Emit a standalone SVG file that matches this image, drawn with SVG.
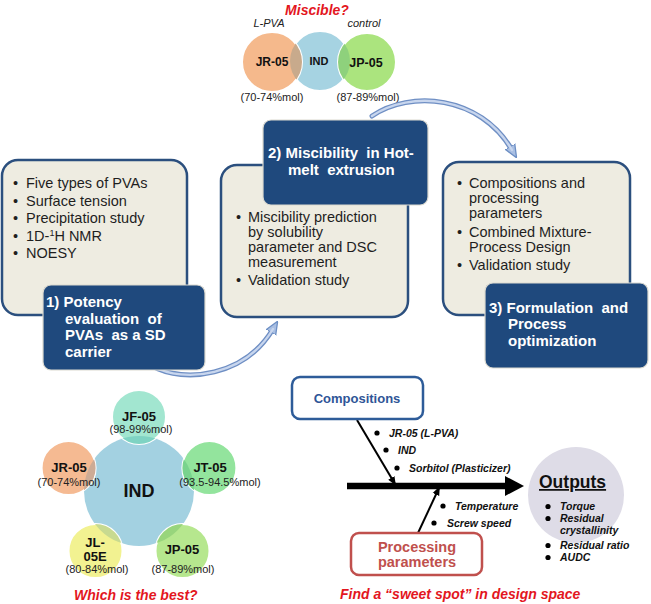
<svg xmlns="http://www.w3.org/2000/svg" width="651" height="604" viewBox="0 0 651 604">
<defs>
<style>
text{font-family:"Liberation Sans",Arial,sans-serif;white-space:pre}
.box{fill:#eeece1;stroke:#2b4f7e;stroke-width:2.5}
.lbl{fill:#1f497d;stroke:#dcdad0;stroke-width:1.2}
.bt{font-size:14.5px;fill:#1e1e1e}
.lt{font-size:15px;font-weight:bold;fill:#ffffff}
.vb{font-weight:bold;fill:#111;text-anchor:middle}
.pct{font-size:11px;fill:#222;text-anchor:middle}
.red{font-weight:bold;font-style:italic;fill:#e3161e}
.fb{font-size:10.5px;font-weight:bold;font-style:italic;fill:#111}
.sat{stroke:#ffffff;stroke-width:2}
.arcO{fill:none;stroke:#6f8fc4;stroke-width:5;stroke-linecap:round}
.arcI{fill:none;stroke:#c8d6ee;stroke-width:2.4;stroke-linecap:round}
.blk{stroke:#000;stroke-width:2;fill:none}
</style>
<marker id="ah" viewBox="0 0 10 10" refX="3" refY="5" markerUnits="userSpaceOnUse" markerWidth="13" markerHeight="13" orient="auto">
<path d="M0,0.8 L10,5 L0,9.2 Z" fill="#a9bfe3" stroke="#6d8fc4" stroke-width="1"/>
</marker>
<marker id="bk" viewBox="0 0 10 10" refX="8" refY="5" markerUnits="userSpaceOnUse" markerWidth="9" markerHeight="9" orient="auto">
<path d="M0,1 L10,5 L0,9 Z" fill="#000"/>
</marker>
<clipPath id="cTop"><circle cx="320" cy="61" r="30"/></clipPath>
<clipPath id="cBot"><circle cx="139" cy="491" r="55"/></clipPath>
</defs>

<rect width="651" height="604" fill="#ffffff"/>

<text x="317" y="15" class="red" font-size="14" text-anchor="middle">Miscible?</text>
<text x="269" y="27" font-size="11" font-style="italic" fill="#222" text-anchor="middle">L-PVA</text>
<text x="364" y="27" font-size="11" font-style="italic" fill="#222" text-anchor="middle">control</text>

<g id="venn-top">
<circle cx="320" cy="61" r="30" fill="#a6d3e2" class="sat"/>
<circle cx="272" cy="62" r="30" fill="#f5b98c" class="sat"/>
<circle cx="367" cy="62" r="29" fill="#abe47e" class="sat"/>
<g clip-path="url(#cTop)">
<circle cx="272" cy="62" r="30" fill="#c8aa8c"/>
<circle cx="367" cy="62" r="29" fill="#8ed17c"/>
</g>
<text x="272" y="66" class="vb" font-size="12">JR-05</text>
<text x="319" y="65" class="vb" font-size="11">IND</text>
<text x="366" y="67" class="vb" font-size="12.5">JP-05</text>
<text x="272" y="101" class="pct">(70-74%mol)</text>
<text x="368" y="101" class="pct">(87-89%mol)</text>
</g>

<g id="connectors">
<path class="arcO" d="M152 366 C185 384 245 376 273 329" marker-end="url(#ah)"/>
<path class="arcI" d="M152 366 C185 384 245 376 273 329"/>
<path class="arcO" d="M372 116 C410 90 480 95 512 150" marker-end="url(#ah)"/>
<path class="arcI" d="M372 116 C410 90 480 95 512 150"/>
<line x1="347" y1="486" x2="508" y2="486" stroke="#000" stroke-width="6.5"/>
<polygon points="505,476 524,486 505,496" fill="#000"/>
<line class="blk" x1="357" y1="420" x2="395" y2="484" marker-end="url(#bk)"/>
<line class="blk" x1="418" y1="533" x2="439" y2="488" marker-end="url(#bk)"/>
</g>

<g id="step1">
<rect class="box" x="2" y="160" width="185" height="155" rx="16"/>
<g class="bt">
<text x="13" y="188">•</text><text x="26" y="188">Five types of PVAs</text>
<text x="13" y="205.5">•</text><text x="26" y="205.5">Surface tension</text>
<text x="13" y="223">•</text><text x="26" y="223">Precipitation study</text>
<text x="13" y="240.5">•</text><text x="26" y="240.5">1D-<tspan font-size="9" dy="-5">1</tspan><tspan dy="5">H NMR</tspan></text>
<text x="13" y="258">•</text><text x="26" y="258">NOESY</text>
</g>
</g>
<g id="label1">
<rect class="lbl" x="43" y="285" width="162" height="85" rx="8"/>
<text class="lt" x="46" y="307">1) Potency</text>
<text class="lt" x="65" y="324">evaluation  of</text>
<text class="lt" x="65" y="340">PVAs  as a SD</text>
<text class="lt" x="65" y="357">carrier</text>
</g>

<g id="step2">
<rect class="box" x="221" y="165" width="187" height="152" rx="16"/>
<g class="bt">
<text x="236" y="222">•</text><text x="248" y="222">Miscibility prediction</text>
<text x="248" y="237">by solubility</text>
<text x="248" y="252">parameter and DSC</text>
<text x="248" y="267">measurement</text>
<text x="236" y="285">•</text><text x="248" y="285">Validation study</text>
</g>
</g>
<g id="label2">
<rect class="lbl" x="263" y="120" width="165" height="85" rx="8"/>
<text class="lt" x="268" y="158">2) Miscibility  in Hot-</text>
<text class="lt" x="288" y="175">melt  extrusion</text>
</g>

<g id="step3">
<rect class="box" x="443" y="162" width="187" height="153" rx="16"/>
<g class="bt">
<text x="457" y="188">•</text><text x="469" y="188">Compositions and</text>
<text x="469" y="203">processing</text>
<text x="469" y="218">parameters</text>
<text x="457" y="237">•</text><text x="469" y="237">Combined Mixture-</text>
<text x="469" y="252">Process Design</text>
<text x="457" y="270">•</text><text x="469" y="270">Validation study</text>
</g>
</g>
<g id="label3">
<rect class="lbl" x="485" y="283" width="163" height="85" rx="8"/>
<text class="lt" x="489" y="313">3) Formulation  and</text>
<text class="lt" x="508" y="329">Process</text>
<text class="lt" x="508" y="346">optimization</text>
</g>

<g id="pva-set">
<circle cx="139" cy="491" r="55" fill="#a3d1e1"/>
<circle cx="139" cy="417" r="27" fill="#a2e6d0" class="sat"/>
<circle cx="209.4" cy="468" r="27" fill="#93e49d" class="sat"/>
<circle cx="182.5" cy="551" r="27" fill="#b6e78e" class="sat"/>
<circle cx="95.5" cy="551" r="27" fill="#f2f291" class="sat"/>
<circle cx="68.6" cy="468" r="27" fill="#f5ba92" class="sat"/>
<g clip-path="url(#cBot)">
<circle cx="139" cy="417" r="27" fill="#7fd3c3"/>
<circle cx="209.4" cy="468" r="27" fill="#79d38d"/>
<circle cx="182.5" cy="551" r="27" fill="#98d57c"/>
<circle cx="95.5" cy="551" r="27" fill="#c8da90"/>
<circle cx="68.6" cy="468" r="27" fill="#cdab95"/>
</g>
<text x="139" y="497" class="vb" font-size="18">IND</text>
<text x="139" y="421" class="vb" font-size="13">JF-05</text>
<text x="141" y="433" class="pct">(98-99%mol)</text>
<text x="69" y="472" class="vb" font-size="13">JR-05</text>
<text x="69" y="486" class="pct">(70-74%mol)</text>
<text x="210" y="472" class="vb" font-size="13">JT-05</text>
<text x="220" y="486" class="pct">(93.5-94.5%mol)</text>
<text x="182" y="554" class="vb" font-size="13">JP-05</text>
<text x="183" y="573" class="pct">(87-89%mol)</text>
<text x="95" y="547" class="vb" font-size="13">JL-</text>
<text x="95" y="561" class="vb" font-size="13">05E</text>
<text x="97" y="573" class="pct">(80-84%mol)</text>
</g>
<text x="74" y="600" class="red" font-size="14">Which is the best?</text>

<g id="compositions">
<rect x="292" y="377" width="131" height="42" rx="8" fill="#ffffff" stroke="#2e5c99" stroke-width="2.5"/>
<text x="357" y="403" font-size="13" font-weight="bold" fill="#2f5597" text-anchor="middle">Compositions</text>
</g>
<g id="comp-items">
<circle cx="377" cy="433" r="2.6" fill="#000"/><text class="fb" x="389" y="437">JR-05 (L-PVA)</text>
<circle cx="386" cy="450" r="2.6" fill="#000"/><text class="fb" x="398" y="454">IND</text>
<circle cx="397" cy="468" r="2.6" fill="#000"/><text class="fb" x="409" y="472">Sorbitol (Plasticizer)</text>
</g>
<g id="proc-items">
<circle cx="443" cy="506" r="2.6" fill="#000"/><text class="fb" x="455" y="510">Temperature</text>
<circle cx="434" cy="523" r="2.6" fill="#000"/><text class="fb" x="447" y="527">Screw speed</text>
</g>
<g id="processing">
<rect x="351" y="533" width="131" height="42" rx="8" fill="#ffffff" stroke="#c0504d" stroke-width="2.5"/>
<text x="417" y="552" font-size="14.5" font-weight="bold" fill="#c0504d" text-anchor="middle">Processing</text>
<text x="417" y="567" font-size="14.5" font-weight="bold" fill="#c0504d" text-anchor="middle">parameters</text>
</g>
<g id="outputs">
<circle cx="576" cy="495" r="48" fill="#dedce7"/>
<text x="539" y="488" font-size="17.5" font-weight="bold" fill="#111" text-decoration="underline">Outputs</text>
<circle cx="548" cy="506.5" r="2.6" fill="#000"/><text class="fb" x="560" y="510">Torque</text>
<circle cx="548" cy="518.5" r="2.6" fill="#000"/><text class="fb" x="560" y="522">Residual</text>
<text class="fb" x="560" y="534">crystallinity</text>
<circle cx="548" cy="545.5" r="2.6" fill="#000"/><text class="fb" x="560" y="549">Residual ratio</text>
<circle cx="548" cy="557.5" r="2.6" fill="#000"/><text class="fb" x="560" y="561">AUDC</text>
</g>
<text x="340" y="599" class="red" font-size="14">Find a “sweet spot” in design space</text>
</svg>
